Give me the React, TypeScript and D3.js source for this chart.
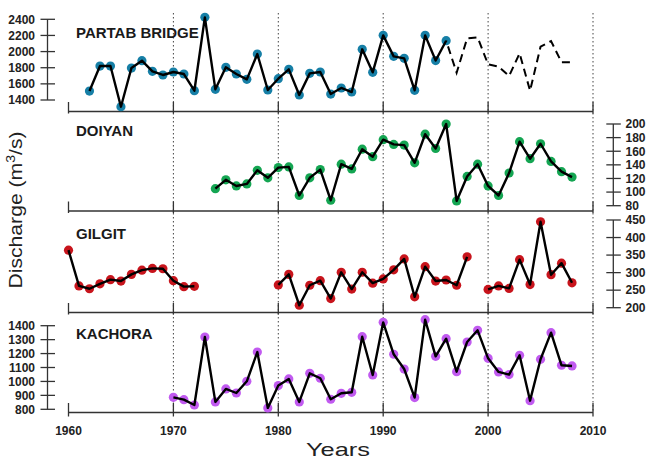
import React from "react";
import * as d3 from "d3";

// ---- data ----
const decades = [1960, 1970, 1980, 1990, 2000, 2010];

const partabStart = 1962;
const partabObserved = [1511, 1821, 1821, 1317, 1796, 1887, 1755, 1710, 1747, 1722, 1515, 2424, 1532, 1805, 1722, 1656, 1970, 1524, 1664, 1780, 1462, 1730, 1747, 1474, 1549, 1499, 2028, 1743, 2201, 1941, 1916, 1520, 2201, 1889, 2135];
const partabExtStart = 1997;
const partabExtended = [1738, 2164, 2176, 1842, 1813, 1697, 1978, 1515, 2060, 2131, 1867, 1867];

const doiyanStart = 1974;
const doiyanValues = [105, 118, 109, 112, 132, 121, 136, 137, 95, 121, 133, 88, 141, 134, 163, 152, 177, 170, 169, 143, 185, 164, 200, 87, 123, 141, 109, 95, 128, 174, 149, 171, 145, 130, 122];

const gilgitStart = 1960;
const gilgitValues: (number | null)[] = [364, 262, 254, 268, 280, 276, 295, 307, 312, 311, 277, 260, 261, null, null, null, null, null, null, null, 265, 295, 207, 264, 277, 226, 301, 253, 301, 270, 282, 308, 339, 231, 317, 276, 279, 264, 345, null, 252, 262, 255, 337, 266, 445, 294, 327, 271];

const kachoraStart = 1970;
const kachoraValues = [886, 869, 831, 1319, 853, 946, 917, 1001, 1211, 810, 970, 1018, 853, 1058, 1023, 872, 915, 922, 1321, 1046, 1424, 1195, 1089, 884, 1443, 1180, 1307, 1070, 1283, 1367, 1166, 1068, 1049, 1188, 862, 1159, 1350, 1116, 1111];

const partabTicks = [1400, 1600, 1800, 2000, 2200, 2400];
const doiyanTicks = [80, 100, 120, 140, 160, 180, 200];
const gilgitTicks = [200, 250, 300, 350, 400, 450];
const kachoraTicks = [800, 900, 1000, 1100, 1200, 1300, 1400];

type Pt = { year: number; v: number | null };
const toPts = (start: number, vals: (number | null)[]): Pt[] =>
  vals.map((v, i) => ({ year: start + i, v }));

const FONT = "'Liberation Sans', Arial, Helvetica, sans-serif";

export default function App() {
  const x = d3.scaleLinear().domain([1960, 2010]).range([68.5, 593]);

  const panels = [
    {
      name: "PARTAB BRIDGE",
      pts: toPts(partabStart, partabObserved),
      y: d3.scaleLinear().domain([1400, 2400]).range([100, 19.3]),
      ticks: partabTicks,
      side: "left",
      color: "#167fa6",
      titleY: 37.5,
    },
    {
      name: "DOIYAN",
      pts: toPts(doiyanStart, doiyanValues),
      y: d3.scaleLinear().domain([80, 200]).range([205.7, 124]),
      ticks: doiyanTicks,
      side: "right",
      color: "#14a552",
      titleY: 136,
    },
    {
      name: "GILGIT",
      pts: toPts(gilgitStart, gilgitValues),
      y: d3.scaleLinear().domain([200, 450]).range([307.7, 220]),
      ticks: gilgitTicks,
      side: "right",
      color: "#c8141c",
      titleY: 238.5,
    },
    {
      name: "KACHORA",
      pts: toPts(kachoraStart, kachoraValues),
      y: d3.scaleLinear().domain([800, 1400]).range([409.3, 325.7]),
      ticks: kachoraTicks,
      side: "left",
      color: "#c15af0",
      titleY: 339,
    },
  ];

  const boundaries = [111.5, 211, 312.5, 412.5];

  const extPts: Pt[] = [
    { year: partabStart + partabObserved.length - 1, v: partabObserved[partabObserved.length - 1] },
    ...toPts(partabExtStart, partabExtended),
  ];

  return (
    <svg
      width={649}
      height={460}
      style={{ position: "absolute", left: 0, top: 0, background: "#fff" }}
      fontFamily={FONT}
    >
      <rect width={649} height={460} fill="#fff" />
      {/* dotted decade lines */}
      {decades.slice(1).map((d) => (
        <line
          key={"dl" + d}
          x1={x(d)}
          x2={x(d)}
          y1={13}
          y2={412.5}
          stroke="#444"
          strokeWidth={1}
          strokeDasharray="1.5,2.5"
        />
      ))}
      {/* boundary lines with ticks */}
      {boundaries.map((by, bi) => (
        <g key={"b" + bi}>
          <line x1={x(1960)} x2={x(2010)} y1={by} y2={by} stroke="#333" strokeWidth={1.3} />
          {decades.map((d) => (
            <line
              key={d}
              x1={x(d)}
              x2={x(d)}
              y1={by - 9.5}
              y2={bi === 3 ? by + 4 : by + 2}
              stroke="#333"
              strokeWidth={1.3}
            />
          ))}
        </g>
      ))}
      {/* x tick labels */}
      {decades.map((d) => (
        <text
          key={"xl" + d}
          x={x(d)}
          y={435}
          textAnchor="middle"
          fontSize={12}
          fontWeight="bold"
          fill="#222"
        >
          {d}
        </text>
      ))}
      <text
        x={338}
        y={455.5}
        textAnchor="middle"
        fontSize={19}
        fill="#222"
        textLength={64}
        lengthAdjust="spacingAndGlyphs"
      >
        Years
      </text>
      <text
        transform="translate(22,210) rotate(-90)"
        textAnchor="middle"
        fontSize={18}
        fill="#222"
        textLength={157}
        lengthAdjust="spacingAndGlyphs"
      >
        Discharge (m<tspan dy={-7} fontSize={12}>3</tspan>
        <tspan dy={7}>/s)</tspan>
      </text>

      {panels.map((p, pi) => {
        const line = d3
          .line<Pt>()
          .defined((d) => d.v !== null)
          .x((d) => x(d.year))
          .y((d) => p.y(d.v as number));
        const [r0, r1] = p.y.range();
        const ax = p.side === "left" ? 47.5 : 613.3;
        return (
          <g key={p.name}>
            {/* y axis */}
            <line x1={ax} x2={ax} y1={r0} y2={r1} stroke="#333" strokeWidth={1.3} />
            {p.ticks.map((t) => (
              <g key={t}>
                <line
                  x1={ax - 7}
                  x2={ax + 7.5}
                  y1={p.y(t)}
                  y2={p.y(t)}
                  stroke="#333"
                  strokeWidth={1.3}
                />
                <text
                  x={p.side === "left" ? 35 : 625.5}
                  y={p.y(t) + 4.3}
                  textAnchor={p.side === "left" ? "end" : "start"}
                  fontSize={12}
                  fontWeight="bold"
                  fill="#222"
                >
                  {t}
                </text>
              </g>
            ))}
            <text x={76} y={p.titleY} fontSize={15} fontWeight="bold" fill="#1a1a1a">
              {p.name}
            </text>
            {p.pts
              .filter((d) => d.v !== null)
              .map((d) => (
                <circle key={d.year} cx={x(d.year)} cy={p.y(d.v as number)} r={4.6} fill={p.color} />
              ))}
            <path d={line(p.pts) || ""} fill="none" stroke="#000" strokeWidth={2.4} strokeLinejoin="round" />
            {pi === 0 && (
              <path
                d={line(extPts) || ""}
                fill="none"
                stroke="#000"
                strokeWidth={2}
                strokeDasharray="8,5"
                strokeDashoffset={-6}
              />
            )}
          </g>
        );
      })}
    </svg>
  );
}
